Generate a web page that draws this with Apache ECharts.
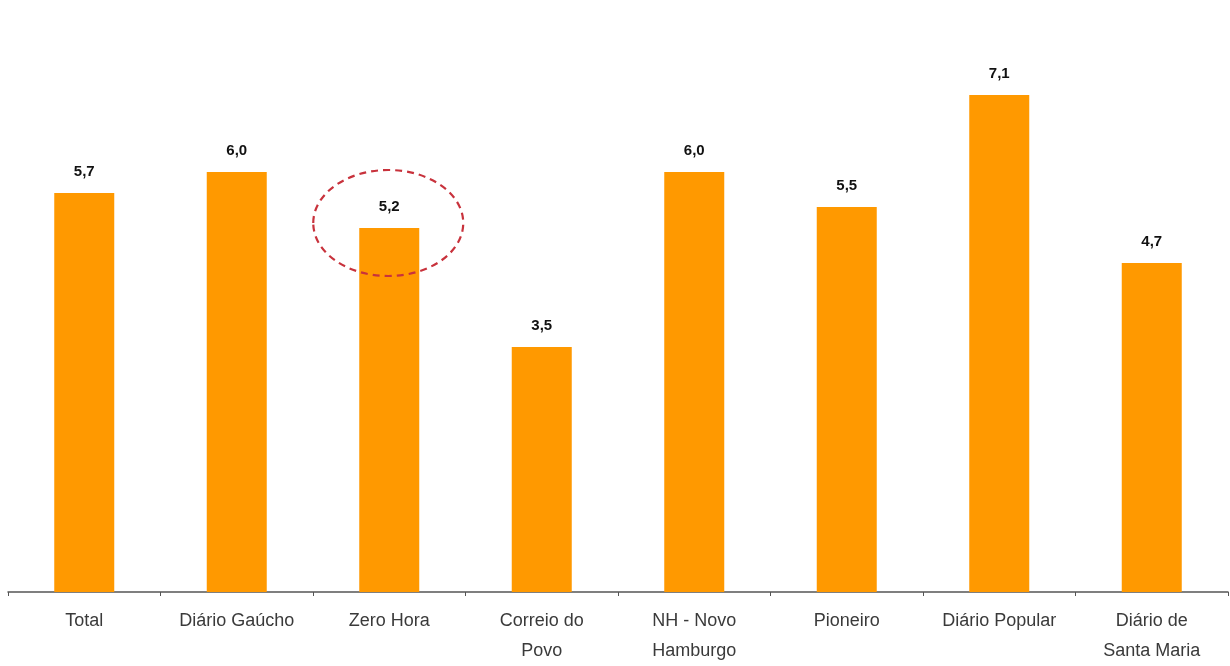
<!DOCTYPE html>
<html><head><meta charset="utf-8">
<script src="https://cdn.jsdelivr.net/npm/echarts@6/dist/echarts.min.js"></script>
<style>html,body{margin:0;padding:0;background:#fff}#c{width:1230px;height:666px}</style>
</head><body><div id="c"></div>
<script>
const categories = ['Total', 'Diário Gaúcho', 'Zero Hora', 'Correio do\nPovo', 'NH - Novo\nHamburgo', 'Pioneiro', 'Diário Popular', 'Diário de\nSanta Maria'];
const values = [5.7, 6.0, 5.2, 3.5, 6.0, 5.5, 7.1, 4.7];
const highlightIndex = 2;

const chart = echarts.init(document.getElementById('c'));
chart.setOption({
  animation: false,
  grid: { left: 8, right: 2, top: 32, bottom: 73 },
  xAxis: {
    type: 'category', data: categories,
    axisLine: { lineStyle: { color: '#555', width: 1.5 } },
    axisTick: { show: true, length: 4, lineStyle: { color: '#555' } },
    axisLabel: { color: '#3a3a3a', fontFamily: 'Liberation Sans, Arial', fontSize: 18, margin: 14, lineHeight: 30, interval: 0 }
  },
  yAxis: { type: 'value', min: 0, max: 8, show: false, splitLine: { show: false } },
  series: [{
    type: 'bar', data: values, barWidth: 60,
    itemStyle: { color: '#FF9900' },
    label: {
      show: true, position: 'top', distance: 14,
      fontFamily: 'Liberation Sans, Arial', fontWeight: 'bold', fontSize: 15, color: '#111',
      formatter: p => p.value.toFixed(1).replace('.', ',')
    }
  }]
});
const pt = chart.convertToPixel({ seriesIndex: 0 }, [highlightIndex, values[highlightIndex]]);
chart.setOption({
  graphic: [{
    type: 'ellipse',
    shape: { cx: pt[0] - 1, cy: pt[1] - 5, rx: 75, ry: 53 },
    style: { fill: 'none', stroke: '#C8323C', lineWidth: 2.2, lineDash: [7, 5] },
    z: 100
  }]
});
</script></body></html>
